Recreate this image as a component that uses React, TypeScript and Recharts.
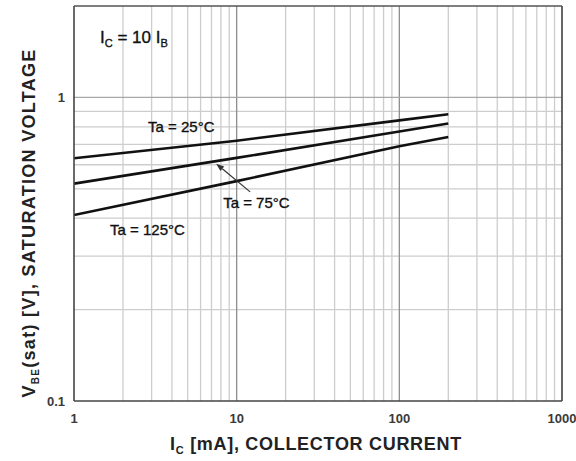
import { LineChart, Line, XAxis, YAxis, ReferenceLine, ReferenceDot, Label } from "recharts";

const FONT = '"Liberation Sans", Arial, Helvetica, sans-serif';

// collector current (mA) at which the curves were read
const collectorCurrent = [1, 10, 100, 200];
// VBE(sat) in volts for each ambient temperature
const vbe25C = [0.63, 0.72, 0.84, 0.88];
const vbe75C = [0.52, 0.632, 0.772, 0.82];
const vbe125C = [0.41, 0.53, 0.69, 0.74];

const xTicks = [1, 10, 100, 1000];
const yTicks = [0.1, 1];
const xDecades = [10, 100];
const xMinor = [2, 3, 4, 5, 6, 7, 8, 9, 20, 30, 40, 50, 60, 70, 80, 90, 200, 300, 400, 500, 600, 700, 800, 900];
const yDecades = [1];
const yMinor = [0.2, 0.3, 0.4, 0.5, 0.6, 0.7, 0.8, 0.9];

// annotation anchors in data units (x = mA, y = V)
const condAt = { x: 1.445, y: 1.515 };
const label25At = { x: 2.854, y: 0.77 };
const label75At = { x: 8.26, y: 0.4325 };
const label125At = { x: 1.665, y: 0.352 };
const arrowFrom = { x: 12.1, y: 0.4885 };
const arrowTo = { x: 7.48, y: 0.605 };

const data = collectorCurrent.map((ic, i) => ({
  ic,
  t25: vbe25C[i],
  t75: vbe75C[i],
  t125: vbe125C[i],
}));

const XTick = (p: any) => (
  <text x={p.x} y={p.y + 20} textAnchor="middle" fontFamily={FONT} fontSize={13} fontWeight="bold" fill="#3a3a3a">
    {p.payload.value}
  </text>
);

const YTick = (p: any) => (
  <text x={p.x - 7} y={p.y + 4.5} textAnchor="end" fontFamily={FONT} fontSize={13} fontWeight="bold" fill="#3a3a3a">
    {p.payload.value}
  </text>
);

const tempLabel = (t: string) => (p: any) => (
  <text x={p.cx} y={p.cy} fontFamily={FONT} fontSize={15} fill="#111" stroke="#111" strokeWidth={0.35}>
    {`Ta = ${t}°C`}
  </text>
);

const ConditionLabel = (p: any) => (
  <text x={p.cx} y={p.cy} fontFamily={FONT} fontSize={17} fill="#111" stroke="#111" strokeWidth={0.35}>
    I<tspan fontSize={11} dy={4}>C</tspan>
    <tspan dy={-4}> = 10 I</tspan>
    <tspan fontSize={11} dy={4}>B</tspan>
  </text>
);

const Arrow = (p: any) => {
  const { x1, y1, x2, y2 } = p;
  const ang = Math.atan2(y2 - y1, x2 - x1);
  const len = 8;
  const half = 3;
  const bx = x2 - len * Math.cos(ang);
  const by = y2 - len * Math.sin(ang);
  const nx = -Math.sin(ang) * half;
  const ny = Math.cos(ang) * half;
  return (
    <g>
      <line x1={x1} y1={y1} x2={bx} y2={by} stroke="#333" strokeWidth={1.2} />
      <polygon points={`${x2},${y2} ${bx + nx},${by + ny} ${bx - nx},${by - ny}`} fill="#333" />
    </g>
  );
};

export default function App() {
  return (
    <div style={{ position: "absolute", left: 0, top: 0, background: "#fff" }}>
      <LineChart width={576} height={461} data={data} margin={{ top: 6, right: 14, bottom: 0, left: 0 }}>
        <XAxis
          dataKey="ic"
          type="number"
          scale="log"
          domain={[1, 1000]}
          ticks={xTicks}
          interval={0}
          allowDataOverflow
          height={60}
          tickSize={0}
          tickLine={false}
          axisLine={{ stroke: "#444", strokeWidth: 1.6 }}
          tick={XTick}
        >
          <Label
            content={(p: any) => {
              const cx = p.viewBox.x + p.viewBox.width / 2 - 2;
              return (
                <text x={cx} y={450} textAnchor="middle" fontFamily={FONT} fontSize={18} fontWeight="bold" fill="#222" letterSpacing={0.7}>
                  I<tspan fontSize={11} dy={4}>C</tspan>
                  <tspan dy={-4}> [mA], COLLECTOR CURRENT</tspan>
                </text>
              );
            }}
          />
        </XAxis>
        <YAxis
          type="number"
          scale="log"
          domain={[0.1, 2]}
          ticks={yTicks}
          interval={0}
          allowDataOverflow
          width={74}
          tickSize={0}
          tickLine={false}
          axisLine={{ stroke: "#444", strokeWidth: 1.6 }}
          tick={YTick}
        >
          <Label
            content={() => (
              <text
                transform="translate(35,223) rotate(-90)"
                textAnchor="middle"
                fontFamily={FONT}
                fontSize={18}
                fontWeight="bold"
                fill="#222"
                letterSpacing={1.3}
              >
                V<tspan fontSize={10} dy={4}>BE</tspan>
                <tspan dy={-4}>(sat) [V], SATURATION VOLTAGE</tspan>
              </text>
            )}
          />
        </YAxis>

        {xMinor.map((v) => (
          <ReferenceLine key={`xm${v}`} x={v} stroke="#cdcdcd" strokeWidth={1.3} />
        ))}
        {yMinor.map((v) => (
          <ReferenceLine key={`ym${v}`} y={v} stroke="#cdcdcd" strokeWidth={1.3} />
        ))}
        {xDecades.map((v) => (
          <ReferenceLine key={`xd${v}`} x={v} stroke="#8e8e8e" strokeWidth={1.3} />
        ))}
        {yDecades.map((v) => (
          <ReferenceLine key={`yd${v}`} y={v} stroke="#a8a8a8" strokeWidth={1.3} />
        ))}
        <ReferenceLine x={1000} stroke="#555" strokeWidth={1.8} />
        <ReferenceLine y={2} stroke="#555" strokeWidth={1.6} />

        <Line type="linear" dataKey="t25" stroke="#111" strokeWidth={2.6} dot={false} isAnimationActive={false} />
        <Line type="linear" dataKey="t75" stroke="#111" strokeWidth={2.6} dot={false} isAnimationActive={false} />
        <Line type="linear" dataKey="t125" stroke="#111" strokeWidth={2.6} dot={false} isAnimationActive={false} />

        <ReferenceLine segment={[arrowFrom, arrowTo]} shape={Arrow} />
        <ReferenceDot x={condAt.x} y={condAt.y} shape={ConditionLabel} />
        <ReferenceDot x={label25At.x} y={label25At.y} shape={tempLabel("25")} />
        <ReferenceDot x={label75At.x} y={label75At.y} shape={tempLabel("75")} />
        <ReferenceDot x={label125At.x} y={label125At.y} shape={tempLabel("125")} />
      </LineChart>
    </div>
  );
}
